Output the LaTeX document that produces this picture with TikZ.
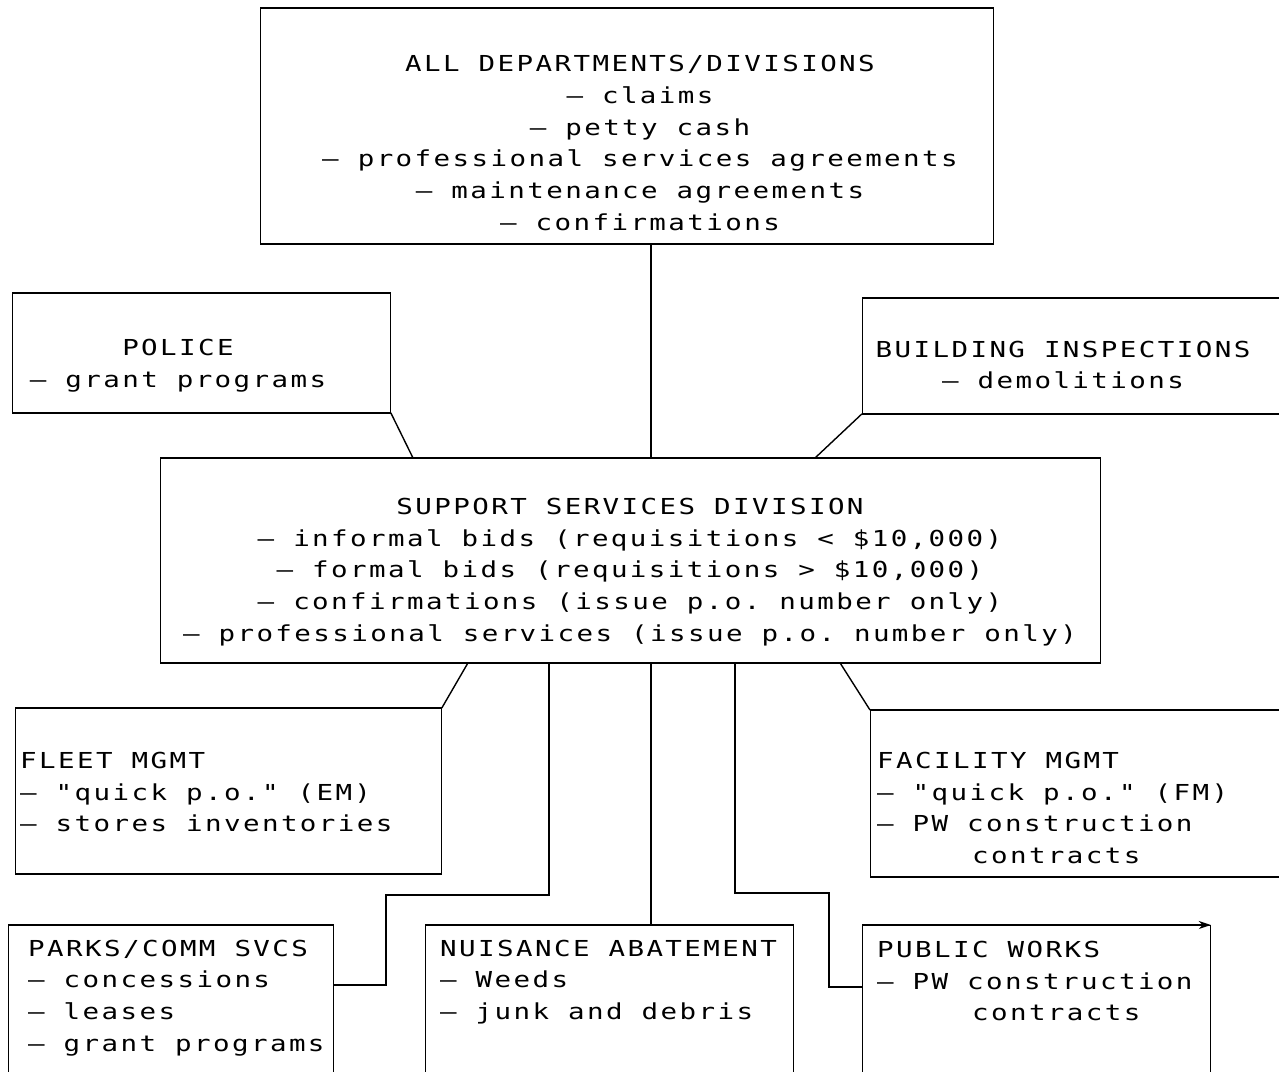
\documentclass[tikz,border=0pt]{standalone}
\usepackage{fontspec}
\newfontfamily\plotfont[Ligatures=TeXOff,FakeStretch=1.25,LetterSpace=11]{DejaVu Sans Mono}
\usetikzlibrary{calc,arrows.meta}
\newlength\chpitch
\newlength\onechar
\newcommand\plotsize{\plotfont\fontsize{22}{31.8}\selectfont\spaceskip=\chpitch\relax\xspaceskip=\chpitch\relax}
\begin{document}
\settowidth\chpitch{\plotsize MMMMM}%
\settowidth\onechar{\plotsize MMMM}%
\addtolength\chpitch{-\onechar}%
\begin{tikzpicture}[x=1pt,y=-1pt,
  box/.style={draw, line width=0.8pt, inner sep=0pt, anchor=north west},
  txt/.style={font=\plotsize, inner sep=0pt},
  link/.style={line width=1.4pt},
  heavy/.style={line width=1.7pt}]
\useasboundingbox (0,0) rectangle (1279,1071);
\clip (0,0) rectangle (1279,1071);
% boxes
\node[box, minimum width=733pt, minimum height=235pt] (top) at (260,8) {};
\node[box, minimum width=378pt, minimum height=119pt] (police) at (12,293) {};
\node[box, minimum width=440pt, minimum height=115pt] (bldg) at (862,298) {};
\node[box, minimum width=940pt, minimum height=204pt] (support) at (160,458) {};
\node[box, minimum width=426pt, minimum height=165pt] (fleet) at (15,708) {};
\node[box, minimum width=430pt, minimum height=166pt] (facility) at (870,710) {};
\node[box, minimum width=325pt, minimum height=160pt] (parks) at (8,925) {};
\node[box, minimum width=368pt, minimum height=160pt] (nuis) at (425,925) {};
\node[box, minimum width=348pt, minimum height=160pt] (pw) at (862,925) {};
\foreach \b in {top,police,bldg,support,fleet,facility,parks,nuis}
  \draw[heavy] (\b.north west) -- (\b.north east) (\b.south west) -- (\b.south east);
\draw[heavy,-{Stealth[length=12pt,width=8pt]}] (pw.north west) -- (pw.north east);
% texts
\node[txt, align=center] (toptxt) at (640,143) {ALL DEPARTMENTS/DIVISIONS\\– claims\\– petty cash\\– professional services agreements\\– maintenance agreements\\– confirmations};
\node[txt, align=center] (policetxt) at (178,366) {POLICE\\– grant programs};
\node[txt, align=center] (bldgtxt) at (1063,365) {BUILDING INSPECTIONS\\– demolitions};
\node[txt, align=center] (supporttxt) at (630,572) {SUPPORT SERVICES DIVISION\\– informal bids (requisitions < \$10,000)\\– formal bids (requisitions > \$10,000)\\– confirmations (issue p.o. number only)\\– professional services (issue p.o. number only)};
\node[txt, align=left, anchor=west] (fleettxt) at (20,792) {FLEET MGMT\\– "quick p.o." (EM)\\– stores inventories};
\node[txt, align=left, anchor=west] (facilitytxt) at (877,808) {FACILITY MGMT\\– "quick p.o." (FM)\\– PW construction\\\hspace*{5\chpitch}contracts};
\node[txt, align=left, anchor=west] (parkstxt) at (28,998) {PARKS/COMM SVCS\\– concessions\\– leases\\– grant programs};
\node[txt, align=left, anchor=west] (nuistxt) at (440,982) {NUISANCE ABATEMENT\\– Weeds\\– junk and debris};
\node[txt, align=left, anchor=west] (pwtxt) at (877,981) {PUBLIC WORKS\\– PW construction\\\hspace*{5\chpitch}contracts};
% routing points
\coordinate (trunk) at (651,0);
\coordinate (pa) at (549,895);
\coordinate (pb) at (386,895);
\coordinate (pc) at (386,985);
\coordinate (wa) at (735,893);
\coordinate (wb) at (829,893);
\coordinate (wc) at (829,987);
% connectors
\draw[link] (top.south -| trunk) -- (support.north -| trunk);
\draw[link] (police.south east) -- ($(support.north west)+(253,0)$);
\draw[link] (bldg.south west) -- ($(support.north west)+(655,0)$);
\draw[link] ($(support.south west)+(308,0)$) -- (fleet.north east);
\draw[link] (support.south -| pa) -- (pa) -- (pb) -- (pc) -- (pc -| parks.east);
\draw[link] (support.south -| trunk) -- (nuis.north -| trunk);
\draw[link] (support.south -| wa) -- (wa) -- (wb) -- (wc) -- (wc -| pw.west);
\draw[link] ($(support.south west)+(680,0)$) -- (facility.north west);
\end{tikzpicture}
\end{document}
